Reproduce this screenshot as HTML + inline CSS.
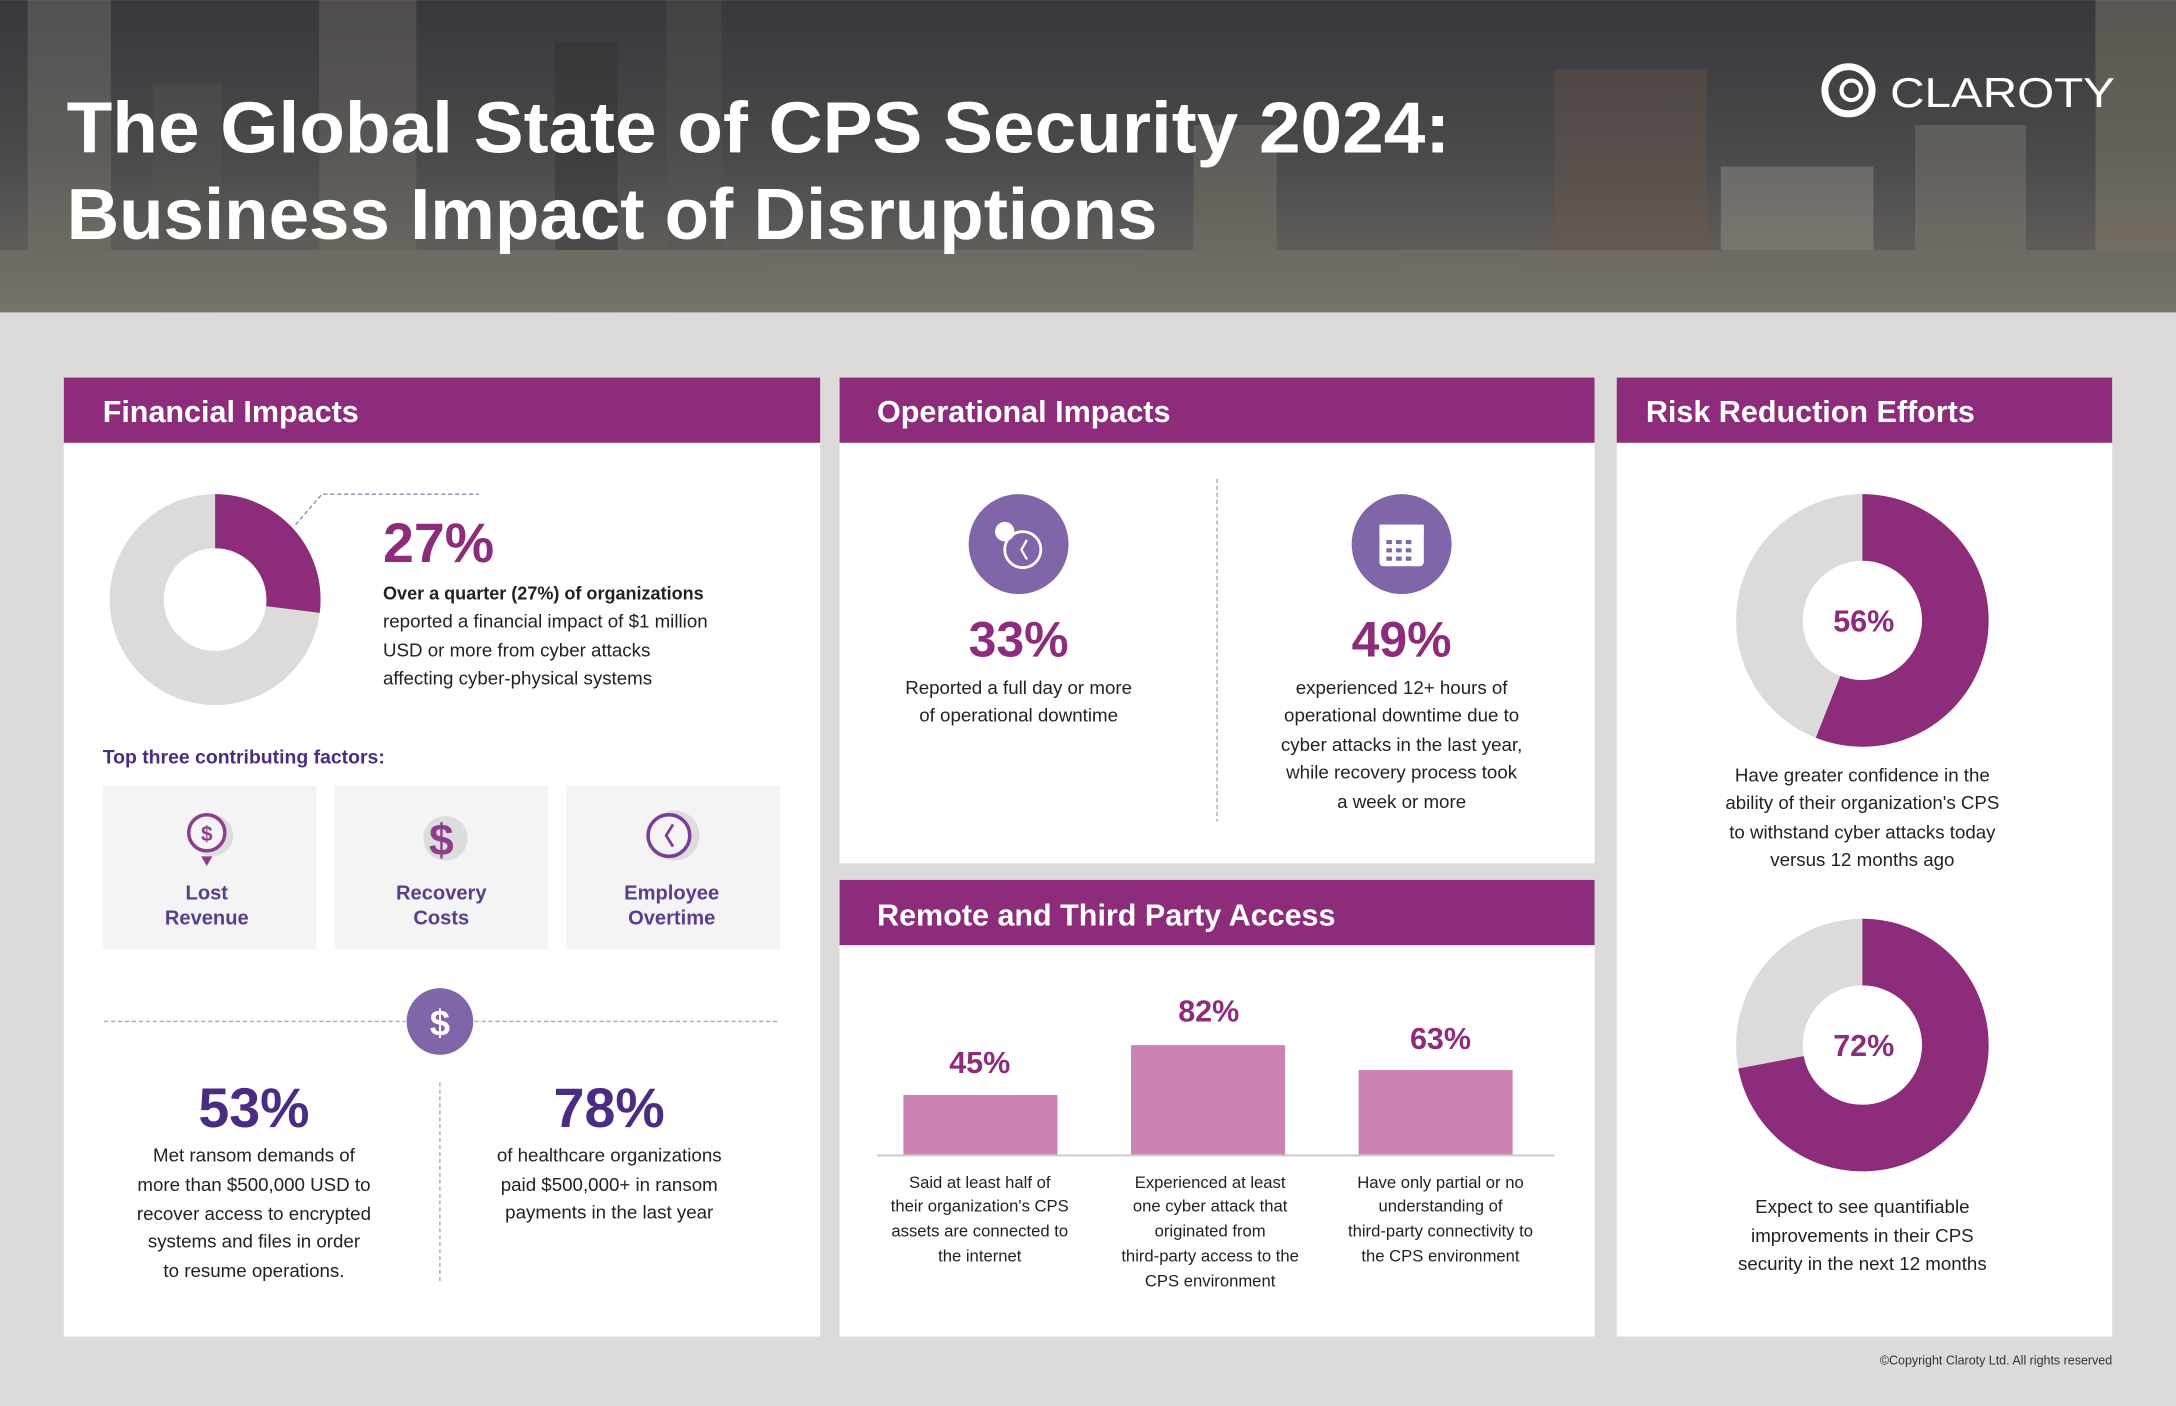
<!DOCTYPE html>
<html><head><meta charset="utf-8"><style>
html,body{margin:0;padding:0;background:#dcdbda;}
svg{display:block;}
text{font-family:"Liberation Sans",sans-serif;}
</style></head><body>
<svg width="2176" height="1406" viewBox="0 0 1568 1013" xmlns="http://www.w3.org/2000/svg">
<defs>
<linearGradient id="sky" x1="0" y1="0" x2="0" y2="1">
<stop offset="0" stop-color="#37383c"/><stop offset="0.5" stop-color="#4a4a4c"/><stop offset="1" stop-color="#6e6962"/>
</linearGradient>
</defs>
<rect width="1568" height="1013" fill="#dcdbda"/>
<rect width="1568" height="225" fill="url(#sky)"/>
<g opacity="0.35">
<rect x="20" y="0" width="60" height="225" fill="#8a8478"/>
<rect x="110" y="60" width="50" height="165" fill="#5c5850"/>
<rect x="230" y="0" width="70" height="225" fill="#7a746a"/>
<rect x="400" y="30" width="45" height="195" fill="#2a2a2c"/>
<rect x="480" y="0" width="40" height="225" fill="#5a5652"/>
<rect x="860" y="90" width="60" height="135" fill="#8a7f70"/>
<rect x="1120" y="50" width="110" height="175" fill="#6e5a4a"/>
<rect x="1240" y="120" width="110" height="105" fill="#aaa398"/>
<rect x="1380" y="90" width="80" height="135" fill="#8e877a"/>
<rect x="1510" y="0" width="58" height="225" fill="#9a8e78"/>
<rect x="0" y="180" width="1568" height="45" fill="#8a8478"/>
</g>
<text x="48" y="110" font-size="52" font-weight="bold" fill="#fff" textLength="997" lengthAdjust="spacingAndGlyphs">The Global State of CPS Security 2024:</text>
<text x="48" y="172" font-size="52" font-weight="bold" fill="#fff" textLength="786" lengthAdjust="spacingAndGlyphs">Business Impact of Disruptions</text>
<circle cx="1332" cy="65" r="17" fill="none" stroke="#fff" stroke-width="5"/>
<circle cx="1334" cy="65" r="7" fill="none" stroke="#fff" stroke-width="3"/>
<text x="1362" y="77" font-size="30" fill="#fff" textLength="162" lengthAdjust="spacingAndGlyphs">CLAROTY</text>

<!-- Financial -->
<rect x="46" y="272" width="545" height="691" fill="#fff"/>
<rect x="46" y="272" width="545" height="47" fill="#8e2c7c"/>
<text x="74" y="304" font-size="22" font-weight="bold" fill="#fff">Financial Impacts</text>
<circle cx="155" cy="432" r="56.5" fill="none" stroke="#dcdbda" stroke-width="39"/>
<circle cx="155" cy="432" r="56.5" fill="none" stroke="#8e2c7c" stroke-width="39" stroke-dasharray="95.85 400" transform="rotate(-90 155 432)"/>
<polyline points="213,378 232,356 345,356" fill="none" stroke="#8a8aa8" stroke-width="1" stroke-dasharray="3 2"/>
<text x="276" y="405" font-size="40" font-weight="bold" fill="#8e2c7c">27%</text>
<text x="276" y="432" font-size="13" font-weight="bold" fill="#222">Over a quarter (27%) of organizations</text>
<text x="276" y="452" font-size="13.5" fill="#222">reported a financial impact of $1 million</text>
<text x="276" y="473" font-size="13.5" fill="#222">USD or more from cyber attacks</text>
<text x="276" y="493" font-size="13.5" fill="#222">affecting cyber-physical systems</text>
<text x="74" y="550" font-size="14" font-weight="bold" fill="#4a2d82">Top three contributing factors:</text>
<g font-size="14.5" fill="#5a3d8f" text-anchor="middle" font-weight="bold">
<rect x="74" y="566" width="154" height="118" fill="#f4f4f4"/>
<rect x="241" y="566" width="154" height="118" fill="#f4f4f4"/>
<rect x="408" y="566" width="154" height="118" fill="#f4f4f4"/>
<circle cx="153" cy="602" r="15" fill="#ddd"/>
<circle cx="149" cy="600" r="13" fill="#f4f4f4" stroke="#8e3c8c" stroke-width="2.5"/>
<text x="149" y="606" font-size="15" fill="#8e3c8c">$</text>
<polygon points="145,617 153,617 149,624" fill="#8e3c8c"/>
<circle cx="321" cy="604" r="16" fill="#ddd"/>
<text x="318" y="616" font-size="32" fill="#8e3c8c">$</text>
<circle cx="486" cy="602" r="18" fill="#ddd"/>
<circle cx="482" cy="602" r="15" fill="#f4f4f4" stroke="#7a3d98" stroke-width="2.5"/>
<polyline points="485,594 480,602 485,610" fill="none" stroke="#7a3d98" stroke-width="2"/>
<text x="149" y="648">Lost</text><text x="149" y="666">Revenue</text>
<text x="318" y="648">Recovery</text><text x="318" y="666">Costs</text>
<text x="484" y="648">Employee</text><text x="484" y="666">Overtime</text>
</g>
<line x1="75" y1="736" x2="292" y2="736" stroke="#a8a8c0" stroke-dasharray="3 2"/>
<line x1="342" y1="736" x2="562" y2="736" stroke="#a8a8c0" stroke-dasharray="3 2"/>
<circle cx="317" cy="736" r="24" fill="#8066a8"/>
<text x="317" y="746" font-size="26" font-weight="bold" fill="#fff" text-anchor="middle">$</text>
<line x1="317" y1="780" x2="317" y2="925" stroke="#a8a8c0" stroke-dasharray="3 2"/>
<g text-anchor="middle" font-size="13.5" fill="#222">
<text x="183" y="812" font-size="40" font-weight="bold" fill="#4a2d82">53%</text>
<text x="183" y="837">Met ransom demands of</text>
<text x="183" y="858">more than $500,000 USD to</text>
<text x="183" y="879">recover access to encrypted</text>
<text x="183" y="899">systems and files in order</text>
<text x="183" y="920">to resume operations.</text>
<text x="439" y="812" font-size="40" font-weight="bold" fill="#4a2d82">78%</text>
<text x="439" y="837">of healthcare organizations</text>
<text x="439" y="858">paid $500,000+ in ransom</text>
<text x="439" y="878">payments in the last year</text>
</g>

<!-- Operational -->
<rect x="605" y="272" width="544" height="350" fill="#fff"/>
<rect x="605" y="272" width="544" height="47" fill="#8e2c7c"/>
<text x="632" y="304" font-size="22" font-weight="bold" fill="#fff">Operational Impacts</text>
<line x1="877" y1="345" x2="877" y2="592" stroke="#a8a8c0" stroke-dasharray="3 2"/>
<circle cx="734" cy="392" r="36" fill="#8066a8"/>
<circle cx="737" cy="396" r="13" fill="none" stroke="#fff" stroke-width="2"/>
<circle cx="724" cy="383" r="7" fill="#fff"/>
<polyline points="740,389 736,396 740,403" fill="none" stroke="#fff" stroke-width="1.6"/>
<circle cx="1010" cy="392" r="36" fill="#8066a8"/>
<rect x="994" y="378" width="32" height="30" rx="3" fill="#fff"/>
<rect x="994" y="378" width="32" height="6" fill="#fff"/>
<g fill="#8066a8"><rect x="999" y="389" width="4" height="3"/><rect x="1006" y="389" width="4" height="3"/><rect x="1013" y="389" width="4" height="3"/><rect x="999" y="395" width="4" height="3"/><rect x="1006" y="395" width="4" height="3"/><rect x="1013" y="395" width="4" height="3"/><rect x="999" y="401" width="4" height="3"/><rect x="1006" y="401" width="4" height="3"/><rect x="1013" y="401" width="4" height="3"/></g>
<g text-anchor="middle" font-size="13.5" fill="#222">
<text x="734" y="473" font-size="36" font-weight="bold" fill="#8e2c7c">33%</text>
<text x="734" y="500">Reported a full day or more</text>
<text x="734" y="520">of operational downtime</text>
<text x="1010" y="473" font-size="36" font-weight="bold" fill="#8e2c7c">49%</text>
<text x="1010" y="500">experienced 12+ hours of</text>
<text x="1010" y="520">operational downtime due to</text>
<text x="1010" y="541">cyber attacks in the last year,</text>
<text x="1010" y="561">while recovery process took</text>
<text x="1010" y="582">a week or more</text>
</g>

<!-- Remote -->
<rect x="605" y="634" width="544" height="329" fill="#fff"/>
<rect x="605" y="634" width="544" height="47" fill="#8e2c7c"/>
<text x="632" y="667" font-size="22" font-weight="bold" fill="#fff">Remote and Third Party Access</text>
<rect x="651" y="789" width="111" height="43" fill="#cd82b5"/>
<rect x="815" y="753" width="111" height="79" fill="#cd82b5"/>
<rect x="979" y="771" width="111" height="61" fill="#cd82b5"/>
<line x1="632" y1="832.5" x2="1120" y2="832.5" stroke="#ccc" stroke-width="1.5"/>
<g text-anchor="middle" font-size="12" fill="#222">
<text x="706" y="773" font-size="22" font-weight="bold" fill="#8e2c7c">45%</text>
<text x="871" y="736" font-size="22" font-weight="bold" fill="#8e2c7c">82%</text>
<text x="1038" y="756" font-size="22" font-weight="bold" fill="#8e2c7c">63%</text>
<text x="706" y="856">Said at least half of</text>
<text x="706" y="873">their organization's CPS</text>
<text x="706" y="891">assets are connected to</text>
<text x="706" y="909">the internet</text>
<text x="872" y="856">Experienced at least</text>
<text x="872" y="873">one cyber attack that</text>
<text x="872" y="891">originated from</text>
<text x="872" y="909">third-party access to the</text>
<text x="872" y="927">CPS environment</text>
<text x="1038" y="856">Have only partial or no</text>
<text x="1038" y="873">understanding of</text>
<text x="1038" y="891">third-party connectivity to</text>
<text x="1038" y="909">the CPS environment</text>
</g>

<!-- Risk -->
<rect x="1165" y="272" width="357" height="691" fill="#fff"/>
<rect x="1165" y="272" width="357" height="47" fill="#8e2c7c"/>
<text x="1186" y="304" font-size="22" font-weight="bold" fill="#fff">Risk Reduction Efforts</text>
<circle cx="1342" cy="447" r="67" fill="none" stroke="#dcdbda" stroke-width="48"/>
<circle cx="1342" cy="447" r="67" fill="none" stroke="#8e2c7c" stroke-width="48" stroke-dasharray="235.7 500" transform="rotate(-90 1342 447)"/>
<circle cx="1342" cy="753" r="67" fill="none" stroke="#dcdbda" stroke-width="48"/>
<circle cx="1342" cy="753" r="67" fill="none" stroke="#8e2c7c" stroke-width="48" stroke-dasharray="303.1 500" transform="rotate(-90 1342 753)"/>
<g text-anchor="middle" font-size="13.5" fill="#222">
<text x="1343" y="455" font-size="22" font-weight="bold" fill="#8e2c7c">56%</text>
<text x="1343" y="761" font-size="22" font-weight="bold" fill="#8e2c7c">72%</text>
<text x="1342" y="563">Have greater confidence in the</text>
<text x="1342" y="583">ability of their organization's CPS</text>
<text x="1342" y="604">to withstand cyber attacks today</text>
<text x="1342" y="624">versus 12 months ago</text>
<text x="1342" y="874">Expect to see quantifiable</text>
<text x="1342" y="895">improvements in their CPS</text>
<text x="1342" y="915">security in the next 12 months</text>
</g>
<text x="1522" y="983" font-size="9" fill="#333" text-anchor="end">©Copyright Claroty Ltd. All rights reserved</text>
</svg>
</body></html>
